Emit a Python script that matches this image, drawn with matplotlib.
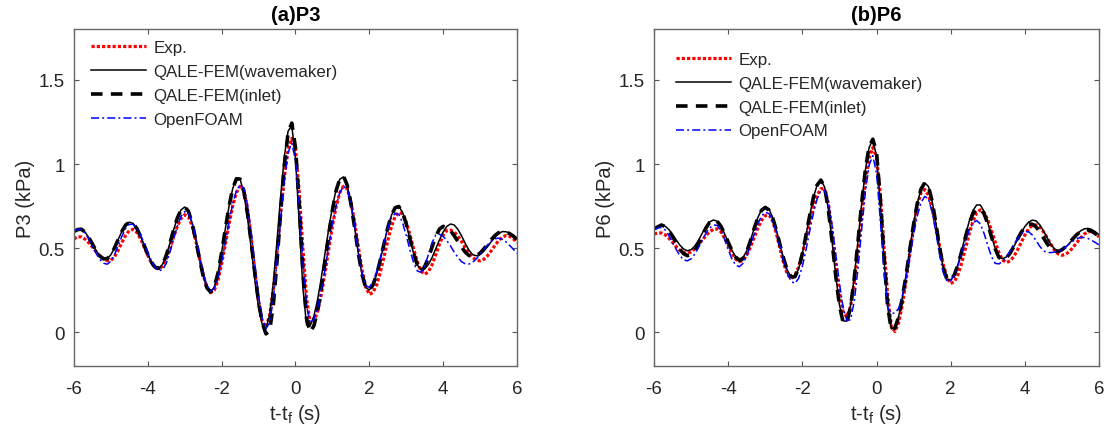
import numpy as np
import matplotlib
matplotlib.use("Agg")
import matplotlib.pyplot as plt

plt.rcParams['font.family'] = ['Liberation Sans', 'DejaVu Sans']
plt.rcParams['mathtext.fontset'] = 'custom'
plt.rcParams['mathtext.rm'] = 'Liberation Sans'
plt.rcParams['axes.unicode_minus'] = False

# time axis, t - t_f (s), 0.1 s spacing
t = np.linspace(-6, 6, 121)

# (a) P3, pressure in kPa
p3_exp = [0.555, 0.569, 0.567, 0.554, 0.533, 0.507, 0.480, 0.455, 0.437, 0.426,
          0.428, 0.450, 0.489, 0.535, 0.577, 0.605, 0.612, 0.595, 0.558, 0.509,
          0.457, 0.411, 0.383, 0.376, 0.395, 0.439, 0.500, 0.568, 0.630, 0.677,
          0.699, 0.688, 0.634, 0.546, 0.441, 0.342, 0.268, 0.236, 0.250, 0.309,
          0.410, 0.521, 0.644, 0.753, 0.831, 0.868, 0.846, 0.736, 0.561, 0.359,
          0.179, 0.061, 0.032, 0.101, 0.258, 0.473, 0.712, 0.927, 1.084, 1.153,
          1.088, 0.838, 0.499, 0.201, 0.054, 0.066, 0.126, 0.226, 0.354, 0.495,
          0.631, 0.747, 0.830, 0.868, 0.854, 0.778, 0.657, 0.511, 0.373, 0.271,
          0.226, 0.237, 0.283, 0.359, 0.451, 0.546, 0.630, 0.689, 0.714, 0.703,
          0.655, 0.581, 0.496, 0.419, 0.364, 0.345, 0.360, 0.402, 0.462, 0.524,
          0.578, 0.606, 0.608, 0.596, 0.572, 0.540, 0.505, 0.472, 0.445, 0.429,
          0.425, 0.434, 0.455, 0.484, 0.516, 0.545, 0.566, 0.575, 0.571, 0.556,
          0.533]
p3_wavemaker = [0.600, 0.611, 0.613, 0.596, 0.564, 0.525, 0.486, 0.454, 0.437, 0.438,
                0.461, 0.503, 0.553, 0.601, 0.638, 0.655, 0.648, 0.619, 0.572, 0.518,
                0.463, 0.416, 0.387, 0.381, 0.404, 0.458, 0.531, 0.610, 0.680, 0.728,
                0.745, 0.720, 0.650, 0.549, 0.436, 0.335, 0.265, 0.240, 0.269, 0.352,
                0.475, 0.615, 0.750, 0.855, 0.913, 0.910, 0.830, 0.682, 0.500, 0.309,
                0.149, 0.046, 0.022, 0.105, 0.295, 0.546, 0.816, 1.048, 1.196, 1.229,
                1.036, 0.653, 0.265, 0.043, 0.042, 0.098, 0.196, 0.325, 0.470, 0.616,
                0.745, 0.848, 0.910, 0.924, 0.876, 0.768, 0.626, 0.473, 0.346, 0.267,
                0.252, 0.282, 0.345, 0.432, 0.529, 0.622, 0.697, 0.741, 0.748, 0.714,
                0.644, 0.555, 0.468, 0.401, 0.371, 0.377, 0.403, 0.445, 0.497, 0.550,
                0.597, 0.630, 0.644, 0.638, 0.612, 0.573, 0.528, 0.488, 0.462, 0.455,
                0.463, 0.482, 0.509, 0.538, 0.565, 0.587, 0.599, 0.598, 0.590, 0.577,
                0.557]
p3_inlet = [0.600, 0.611, 0.613, 0.596, 0.564, 0.525, 0.486, 0.454, 0.437, 0.438,
            0.461, 0.503, 0.553, 0.601, 0.638, 0.655, 0.648, 0.619, 0.572, 0.518,
            0.463, 0.416, 0.387, 0.381, 0.404, 0.458, 0.531, 0.610, 0.680, 0.728,
            0.745, 0.720, 0.650, 0.549, 0.436, 0.335, 0.265, 0.240, 0.269, 0.352,
            0.475, 0.615, 0.750, 0.855, 0.913, 0.911, 0.840, 0.706, 0.537, 0.351,
            0.181, 0.056, -0.009, 0.011, 0.164, 0.420, 0.722, 0.997, 1.187, 1.244,
            1.098, 0.761, 0.370, 0.081, 0.001, 0.040, 0.130, 0.261, 0.417, 0.578,
            0.726, 0.842, 0.912, 0.929, 0.876, 0.768, 0.626, 0.473, 0.346, 0.267,
            0.252, 0.282, 0.345, 0.432, 0.529, 0.622, 0.697, 0.741, 0.748, 0.714,
            0.644, 0.555, 0.468, 0.401, 0.363, 0.391, 0.443, 0.508, 0.570, 0.614,
            0.630, 0.623, 0.604, 0.574, 0.540, 0.506, 0.476, 0.457, 0.450, 0.455,
            0.471, 0.495, 0.522, 0.551, 0.575, 0.592, 0.600, 0.597, 0.587, 0.572,
            0.552]
p3_openfoam = [0.600, 0.613, 0.611, 0.590, 0.555, 0.512, 0.469, 0.434, 0.411, 0.405,
               0.423, 0.463, 0.517, 0.572, 0.618, 0.642, 0.642, 0.621, 0.581, 0.530,
               0.474, 0.424, 0.386, 0.367, 0.371, 0.410, 0.476, 0.555, 0.631, 0.690,
               0.718, 0.708, 0.653, 0.563, 0.456, 0.354, 0.279, 0.246, 0.260, 0.319,
               0.420, 0.531, 0.654, 0.763, 0.841, 0.878, 0.858, 0.758, 0.595, 0.402,
               0.218, 0.081, 0.022, 0.056, 0.200, 0.421, 0.674, 0.904, 1.068, 1.125,
               1.023, 0.756, 0.424, 0.157, 0.055, 0.078, 0.144, 0.254, 0.373, 0.511,
               0.642, 0.753, 0.831, 0.868, 0.852, 0.768, 0.635, 0.486, 0.356, 0.278,
               0.268, 0.300, 0.364, 0.447, 0.537, 0.619, 0.680, 0.708, 0.700, 0.652,
               0.576, 0.490, 0.414, 0.365, 0.357, 0.394, 0.462, 0.534, 0.579, 0.583,
               0.570, 0.545, 0.513, 0.477, 0.445, 0.420, 0.407, 0.406, 0.417, 0.437,
               0.464, 0.493, 0.520, 0.543, 0.556, 0.560, 0.553, 0.538, 0.517, 0.494,
               0.470]

# (b) P6
p6_exp = [0.585, 0.590, 0.591, 0.580, 0.560, 0.535, 0.509, 0.487, 0.474, 0.470,
          0.478, 0.496, 0.520, 0.548, 0.575, 0.598, 0.612, 0.615, 0.599, 0.562,
          0.518, 0.472, 0.436, 0.420, 0.428, 0.458, 0.507, 0.563, 0.620, 0.666,
          0.694, 0.698, 0.662, 0.587, 0.496, 0.407, 0.343, 0.320, 0.338, 0.389,
          0.467, 0.560, 0.658, 0.746, 0.815, 0.854, 0.852, 0.767, 0.608, 0.417,
          0.239, 0.121, 0.092, 0.154, 0.295, 0.488, 0.702, 0.895, 1.036, 1.098,
          1.042, 0.825, 0.517, 0.222, 0.033, 0.005, 0.060, 0.168, 0.313, 0.474,
          0.628, 0.754, 0.830, 0.849, 0.815, 0.736, 0.629, 0.511, 0.404, 0.325,
          0.291, 0.301, 0.345, 0.415, 0.500, 0.587, 0.661, 0.710, 0.728, 0.713,
          0.669, 0.606, 0.537, 0.474, 0.430, 0.415, 0.424, 0.450, 0.489, 0.534,
          0.578, 0.615, 0.636, 0.639, 0.626, 0.598, 0.563, 0.524, 0.489, 0.466,
          0.458, 0.464, 0.480, 0.505, 0.533, 0.561, 0.584, 0.597, 0.600, 0.589,
          0.567]
p6_wavemaker = [0.615, 0.627, 0.638, 0.631, 0.611, 0.581, 0.548, 0.518, 0.495, 0.485,
                0.491, 0.513, 0.548, 0.589, 0.627, 0.656, 0.668, 0.661, 0.632, 0.588,
                0.536, 0.488, 0.451, 0.435, 0.445, 0.484, 0.546, 0.617, 0.682, 0.729,
                0.748, 0.733, 0.683, 0.607, 0.518, 0.434, 0.366, 0.330, 0.331, 0.378,
                0.467, 0.580, 0.697, 0.804, 0.876, 0.905, 0.864, 0.732, 0.543, 0.336,
                0.164, 0.068, 0.067, 0.159, 0.328, 0.543, 0.769, 0.965, 1.098, 1.145,
                1.047, 0.781, 0.444, 0.153, 0.020, 0.032, 0.098, 0.213, 0.346, 0.498,
                0.643, 0.768, 0.852, 0.889, 0.867, 0.780, 0.648, 0.504, 0.384, 0.314,
                0.310, 0.343, 0.406, 0.489, 0.578, 0.661, 0.724, 0.757, 0.757, 0.719,
                0.652, 0.571, 0.498, 0.450, 0.437, 0.448, 0.473, 0.509, 0.550, 0.592,
                0.629, 0.655, 0.667, 0.663, 0.640, 0.604, 0.562, 0.523, 0.495, 0.485,
                0.490, 0.506, 0.529, 0.555, 0.581, 0.603, 0.615, 0.618, 0.612, 0.598,
                0.580]
p6_inlet = [0.615, 0.627, 0.638, 0.629, 0.605, 0.570, 0.531, 0.494, 0.467, 0.456,
            0.462, 0.488, 0.528, 0.576, 0.620, 0.654, 0.668, 0.661, 0.632, 0.588,
            0.536, 0.488, 0.448, 0.428, 0.438, 0.480, 0.544, 0.617, 0.680, 0.726,
            0.742, 0.727, 0.680, 0.607, 0.518, 0.434, 0.366, 0.330, 0.331, 0.378,
            0.467, 0.580, 0.697, 0.804, 0.876, 0.905, 0.864, 0.732, 0.543, 0.336,
            0.160, 0.058, 0.057, 0.152, 0.322, 0.540, 0.770, 0.968, 1.104, 1.148,
            1.070, 0.800, 0.455, 0.155, 0.014, 0.028, 0.094, 0.210, 0.344, 0.496,
            0.643, 0.768, 0.852, 0.889, 0.867, 0.780, 0.648, 0.504, 0.384, 0.314,
            0.310, 0.343, 0.404, 0.484, 0.568, 0.647, 0.706, 0.732, 0.734, 0.705,
            0.645, 0.568, 0.496, 0.446, 0.430, 0.442, 0.470, 0.509, 0.553, 0.594,
            0.625, 0.643, 0.643, 0.627, 0.598, 0.563, 0.527, 0.497, 0.482, 0.481,
            0.491, 0.509, 0.532, 0.558, 0.581, 0.599, 0.609, 0.609, 0.601, 0.587,
            0.570]
p6_openfoam = [0.610, 0.620, 0.624, 0.609, 0.576, 0.536, 0.492, 0.455, 0.431, 0.425,
               0.437, 0.465, 0.504, 0.548, 0.589, 0.620, 0.638, 0.636, 0.607, 0.555,
               0.493, 0.437, 0.400, 0.390, 0.410, 0.454, 0.515, 0.583, 0.645, 0.692,
               0.714, 0.706, 0.664, 0.593, 0.507, 0.420, 0.348, 0.302, 0.291, 0.321,
               0.393, 0.492, 0.604, 0.710, 0.794, 0.842, 0.844, 0.773, 0.637, 0.464,
               0.292, 0.145, 0.070, 0.075, 0.185, 0.379, 0.614, 0.835, 0.994, 1.050,
               0.946, 0.676, 0.364, 0.149, 0.112, 0.115, 0.144, 0.220, 0.328, 0.454,
               0.581, 0.692, 0.771, 0.808, 0.793, 0.715, 0.595, 0.462, 0.355, 0.303,
               0.307, 0.342, 0.400, 0.472, 0.545, 0.608, 0.650, 0.665, 0.644, 0.588,
               0.517, 0.450, 0.410, 0.407, 0.421, 0.448, 0.483, 0.522, 0.557, 0.584,
               0.598, 0.598, 0.579, 0.546, 0.512, 0.485, 0.475, 0.474, 0.477, 0.481,
               0.492, 0.507, 0.526, 0.543, 0.557, 0.564, 0.564, 0.558, 0.547, 0.534,
               0.520]

series_labels = ['Exp.', 'QALE-FEM(wavemaker)', 'QALE-FEM(inlet)', 'OpenFOAM']
titles = ['(a)P3', '(b)P6']
ylabels = ['P3 (kPa)', 'P6 (kPa)']
xticks = [-6, -4, -2, 0, 2, 4, 6]
yticks = [0, 0.5, 1, 1.5]
ytick_labels = ['0', '0.5', '1', '1.5']

styles = [dict(color='#ff0000', ls=(0, (1, 0.65)), lw=2.3),
          dict(color='black', ls='-', lw=1.1),
          dict(color='black', ls=(0, (3.2, 2.3)), lw=2.6),
          dict(color='#0000ff', ls=(0, (5.3, 2, 1.3, 2)), lw=1.1)]

panels = [[p3_exp, p3_wavemaker, p3_inlet, p3_openfoam],
          [p6_exp, p6_wavemaker, p6_inlet, p6_openfoam]]
ax_rects = [[0.0670, 0.1563, 0.4013, 0.7736], [0.5924, 0.1563, 0.4031, 0.7736]]
leg_anchor = [(0.038, 0.968), (0.049, 0.933)]

fig = plt.figure(figsize=(11.04, 4.35), dpi=100)
tc = '#262626'
for k in range(2):
    ax = fig.add_axes(ax_rects[k])
    for ys, lab, st in zip(panels[k], series_labels, styles):
        ax.plot(t, ys, label=lab, **st)
    ax.set_xlim(-6, 6); ax.set_ylim(-0.2, 1.8)
    ax.set_xticks(xticks); ax.set_yticks(yticks, ytick_labels)
    ax.tick_params(direction='in', top=True, right=True, length=3.6, width=0.8,
                   color='#555555', labelcolor=tc, labelsize=13.5)
    ax.tick_params(axis='x', pad=10)
    ax.tick_params(axis='y', pad=6.5)
    for s in ax.spines.values():
        s.set_color('#666666'); s.set_linewidth(1.0)
    ax.set_title(titles[k], fontsize=14.5, fontweight='bold', color='black', pad=7)
    ax.set_xlabel('t-t$_\\mathregular{f}$ (s)', fontsize=14.5, color=tc, labelpad=4)
    ax.set_ylabel(ylabels[k], fontsize=14.5, color=tc, labelpad=3)
    ax.legend(loc='upper left', bbox_to_anchor=leg_anchor[k], frameon=False,
              fontsize=12.2, handlelength=3.25, handletextpad=0.45, labelspacing=0.52,
              borderpad=0, borderaxespad=0, labelcolor=tc)

fig.savefig('out.png', dpi=100)
